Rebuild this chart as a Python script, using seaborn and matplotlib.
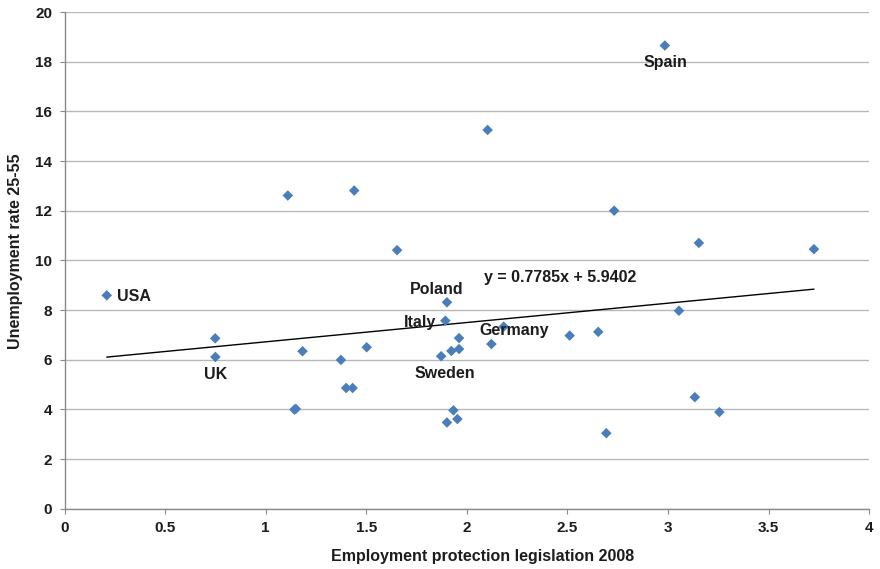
import numpy as np
import pandas as pd
import matplotlib
matplotlib.use("Agg")
import matplotlib.pyplot as plt
import seaborn as sns

# Employment protection legislation index (2008) and unemployment rate, ages 25-55
epl = [0.21, 0.75, 0.749, 1.11, 1.143, 1.15, 1.183, 1.374, 1.40, 1.432, 1.44, 1.502,
       1.653, 1.872, 1.893, 1.901, 1.901, 1.923, 1.933, 1.953, 1.961, 1.961, 2.103,
       2.122, 2.183, 2.511, 2.653, 2.693, 2.732, 2.984, 3.054, 3.133, 3.153, 3.255, 3.725]
unemployment = [8.59, 6.11, 6.86, 12.61, 3.99, 4.02, 6.34, 5.99, 4.86, 4.86, 12.81, 6.50,
                10.41, 6.14, 7.57, 8.31, 3.47, 6.35, 3.96, 3.61, 6.87, 6.43, 15.25,
                6.63, 7.33, 6.97, 7.12, 3.04, 12.00, 18.65, 7.97, 4.49, 10.70, 3.89, 10.45]
country = ["USA", "UK", "", "", "", "", "", "", "", "", "", "",
           "", "Sweden", "Italy", "Poland", "", "", "", "", "", "", "",
           "", "Germany", "", "", "", "", "Spain", "", "", "", "", ""]

# Linear trend reported on the chart
slope = 0.7785
intercept = 5.9402

x_ticks = [0, 0.5, 1, 1.5, 2, 2.5, 3, 3.5, 4]
x_tick_labels = ["0", "0.5", "1", "1.5", "2", "2.5", "3", "3.5", "4"]
y_ticks = [0, 2, 4, 6, 8, 10, 12, 14, 16, 18, 20]
y_tick_labels = [str(v) for v in y_ticks]

df = pd.DataFrame({"epl": epl, "unemp": unemployment, "country": country})

sns.set_theme(style="white")
plt.rcParams["font.family"] = ["Liberation Sans", "DejaVu Sans"]
plt.rcParams["font.weight"] = "bold"
plt.rcParams["axes.labelweight"] = "bold"

TEXT = "#1c1c1c"
GRID = "#b8b8b8"
AXIS = "#8a8a8a"
BLUE = "#4a7ebb"

fig, ax = plt.subplots(figsize=(8.8, 5.69), dpi=100)
fig.subplots_adjust(left=0.0733, right=0.9878, top=0.9789, bottom=0.106)

ax.set_xlim(0, 4)
ax.set_ylim(0, 20)
ax.set_yticks(y_ticks)
ax.set_yticklabels(y_tick_labels)
ax.set_xticks(x_ticks)
ax.set_xticklabels(x_tick_labels)

# horizontal gridlines
ax.yaxis.grid(True, color=GRID, linewidth=1.0)
ax.xaxis.grid(False)
ax.set_axisbelow(True)

for side in ["top", "right"]:
    ax.spines[side].set_visible(False)
for side in ["left", "bottom"]:
    ax.spines[side].set_color(AXIS)
    ax.spines[side].set_linewidth(1.0)

ax.tick_params(axis="both", which="major", direction="out", length=3.6, width=0.8,
               color=AXIS, labelsize=11, labelcolor=TEXT)
ax.tick_params(axis="y", pad=5.4, left=True)
ax.tick_params(axis="x", pad=5.6, bottom=True)

# trend line across the observed range
x_fit = np.array([df["epl"].min(), df["epl"].max()])
y_fit = slope * x_fit + intercept
sns.lineplot(x=x_fit, y=y_fit, color="black", linewidth=1.0, ax=ax)

sns.scatterplot(data=df, x="epl", y="unemp", marker="D", s=29, color=BLUE,
                edgecolor="none", linewidth=0, ax=ax, zorder=3)

# country labels: (dx, dy) in points, horizontal alignment
label_offsets = {
    "USA": (7.6, -4.0, "left"),
    "UK": (0.4, -15.8, "center"),
    "Spain": (0.5, -15.7, "center"),
    "Poland": (-7.7, 5.8, "center"),
    "Italy": (-6.5, -4.2, "right"),
    "Sweden": (2.4, -15.8, "center"),
    "Germany": (7.3, -6.0, "center"),
}
for _, row in df[df["country"] != ""].iterrows():
    dx, dy, ha = label_offsets[row["country"]]
    ax.annotate(row["country"], (row["epl"], row["unemp"]), xytext=(dx, dy),
                textcoords="offset points", ha=ha, va="baseline",
                fontsize=11.5, fontweight="bold", color=TEXT, zorder=4)

ax.text(2.465, 9.14, f"y = {slope}x + {intercept}", ha="center", va="baseline",
        fontsize=11.5, fontweight="bold", color=TEXT)

ax.set_xlabel("Employment protection legislation 2008", fontsize=11.5,
              fontweight="bold", color=TEXT)
ax.set_ylabel("Unemployment rate 25-55", fontsize=11.5, fontweight="bold", color=TEXT)
ax.xaxis.set_label_coords(0.52, -0.0821)
ax.yaxis.set_label_coords(-0.0511, 0.518)

fig.savefig("out.png", dpi=100)
